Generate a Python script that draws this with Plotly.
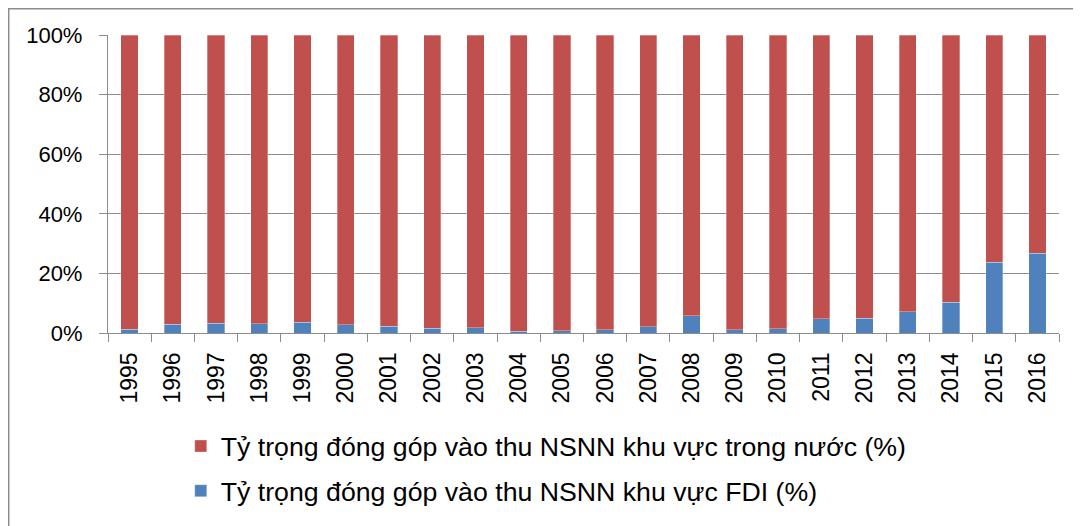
import plotly.graph_objects as go

years = [str(y) for y in range(1995, 2017)]
fdi = [1.3, 2.9, 3.3, 3.1, 3.6, 2.7, 2.3, 1.6, 1.7, 0.6, 0.7, 1.1, 2.1, 5.8, 1.1, 1.5, 4.7, 4.9, 7.1, 10.3, 23.8, 26.8]
domestic = [round(100 - v, 1) for v in fdi]
y_ticks = [0, 20, 40, 60, 80, 100]
y_labels = ["0%", "20%", "40%", "60%", "80%", "100%"]

name_dom = "Tỷ trọng đóng góp vào thu NSNN khu vực trong nước (%)"
name_fdi = "Tỷ trọng đóng góp vào thu NSNN khu vực FDI (%)"

font_family = "Liberation Sans, Arial, sans-serif"
grid = "#8c8c8c"

fig = go.Figure()
fig.add_trace(go.Bar(x=years, y=fdi, name=name_fdi, legendgroup="b", legendrank=2,
                     marker=dict(color="#4F81BD", line=dict(color="rgba(255,255,255,0.5)", width=0.6))))
fig.add_trace(go.Bar(x=years, y=domestic, name=name_dom, legendgroup="a", legendrank=1,
                     marker=dict(color="#C0504D", line=dict(color="rgba(255,255,255,0.5)", width=0.6))))

fig.update_layout(
    width=1073, height=518,
    barmode="stack", bargap=0.6,
    margin=dict(l=100, r=22, t=27, b=192),
    paper_bgcolor="white", plot_bgcolor="white",
    font=dict(family=font_family, color="black"),
    showlegend=True,
    legend=dict(orientation="v", traceorder="grouped", tracegroupgap=7,
                x=0.0765, xanchor="left", y=-0.295, yanchor="top",
                font=dict(size=26.7, family=font_family), bgcolor="rgba(0,0,0,0)"),
    xaxis=dict(type="category", tickangle=-90, tickfont=dict(size=23),
               showline=True, linecolor=grid, linewidth=1.3,
               ticks="outside", tickson="boundaries", ticklen=8, tickcolor=grid, tickwidth=1.3,
               ticklabelstandoff=9, showgrid=False),
    yaxis=dict(range=[0, 100], tickmode="array", tickvals=y_ticks, ticktext=y_labels,
               tickfont=dict(size=22), showgrid=True, gridcolor=grid, gridwidth=1.3,
               showline=True, linecolor=grid, linewidth=1.3,
               ticks="outside", ticklen=8, tickcolor=grid, tickwidth=1.3,
               ticklabelstandoff=12, zeroline=False),
    shapes=[dict(type="rect", xref="paper", yref="paper",
                 x0=-0.1044, x1=1.2, y0=-1.5, y1=1.0878,
                 line=dict(color="#8c8c8c", width=1.5), fillcolor="rgba(0,0,0,0)", layer="below")],
)

fig.write_html("out.html")
